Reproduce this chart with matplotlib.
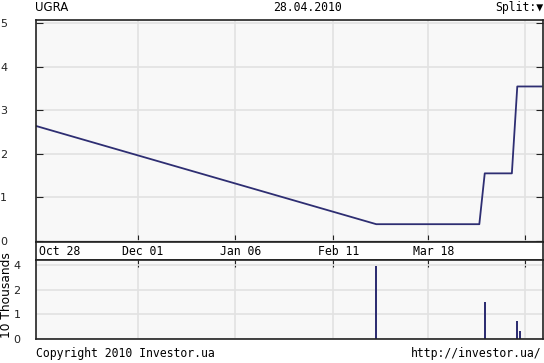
import numpy as np
import matplotlib
import matplotlib.pyplot as plt
matplotlib.use('Agg')

# price series (UAH)
price_dates = ['2009-10-24', '2010-02-27', '2010-04-06', '2010-04-08',
               '2010-04-18', '2010-04-20', '2010-04-29']
price_values = [2.65, 0.38, 0.38, 1.55, 1.55, 3.55, 3.55]

# volume, tens of thousands
volume_dates = ['2010-02-27', '2010-04-08', '2010-04-20', '2010-04-21']
volume_values = [3.9, 1.4, 0.71, 0.33]

tick_dates = ['2009-12-01', '2010-01-06', '2010-02-11', '2010-03-18', '2010-04-23']
tick_labels = ['Dec 01', 'Jan 06', 'Feb 11', 'Mar 18', '']

price_ticks = [0, 1, 2, 3, 4, 5]
volume_ticks = [0, 1, 2, 4]

origin = np.datetime64('2009-10-28')


def days(dates):
    return (np.array(dates, dtype='datetime64[D]') - origin).astype(float)


line_col = '#2e2e72'
grid_col = '#e2e2e2'
face_col = '#f8f8f8'
mono = 'DejaVu Sans Mono'

fig = plt.figure(figsize=(5.44, 3.63), dpi=100)
W, H = 544.0, 363.0
x0, x1 = 35.7 / W, 542.5 / W


def box(top, bottom):
    return [x0, 1 - bottom / H, x1 - x0, (bottom - top) / H]


ax = fig.add_axes(box(20, 242))
band = fig.add_axes(box(242, 260))
axv = fig.add_axes(box(260, 339))

xlim = (-3.6, 183.3)
tx = days(tick_dates)

# main price panel
ax.plot(days(price_dates), price_values, color=line_col, lw=1.3)
ax.set_xlim(*xlim)
ax.set_ylim(-0.03, 5.08)
ax.set_facecolor(face_col)
ax.set_yticks(price_ticks)
ax.set_yticklabels([str(v) for v in price_ticks], fontsize=8)
ax.set_xticks(tx)
ax.set_xticklabels([])
ax.grid(True, color=grid_col, lw=1.2)
ax.set_axisbelow(True)
ax.tick_params(axis='y', direction='in', length=5, pad=20.5, right=True, colors='#222222')
ax.tick_params(axis='x', direction='in', length=5, bottom=True, top=False, colors='#222222')

# date label band
band.set_xlim(*xlim)
band.set_ylim(0, 1)
band.set_xticks([])
band.set_yticks([])
for d, lab in zip(tx, tick_labels):
    band.text(d + 2, 0.45, lab, ha='center', va='center', fontsize=8.3, family=mono)
band.text(0.007, 0.45, 'Oct 28', transform=band.transAxes, ha='left', va='center',
          fontsize=8.3, family=mono)

# volume panel
axv.bar(days(volume_dates), volume_values, width=0.6, color=line_col)
axv.set_yscale('symlog', base=2, linthresh=1, linscale=0.5)
axv.set_xlim(*xlim)
axv.set_ylim(0, 4.6)
axv.set_facecolor(face_col)
axv.set_yticks(volume_ticks)
axv.set_yticklabels([str(v) for v in volume_ticks], fontsize=8)
axv.yaxis.set_minor_locator(matplotlib.ticker.NullLocator())
axv.set_xticks(tx)
axv.set_xticklabels([])
axv.grid(True, color=grid_col, lw=1.2)
axv.set_axisbelow(True)
axv.tick_params(axis='y', direction='in', length=0, pad=11, colors='#222222')
axv.tick_params(axis='x', direction='in', length=5, bottom=False, top=True, colors='#222222')

for a in (ax, band, axv):
    for s in a.spines.values():
        s.set_linewidth(1.2)
        s.set_color('#222222')

fig.text(6.5 / W, 1 - 295 / H, '10 Thousands', rotation=90, ha='center', va='center', fontsize=8.8)
fig.text(35 / W, 1 - 7.5 / H, 'UGRA', ha='left', va='center', fontsize=8.5)
fig.text(308 / W, 1 - 7.5 / H, '28.04.2010', ha='center', va='center', fontsize=8.3, family=mono)
fig.text(543 / W, 1 - 7.5 / H, 'Split:\u25bc', ha='right', va='center', fontsize=8.3, family=mono)
fig.text(36 / W, 1 - 353 / H, 'Copyright 2010 Investor.ua', ha='left', va='center',
         fontsize=8.3, family=mono)
fig.text(541 / W, 1 - 353 / H, 'http://investor.ua/', ha='right', va='center',
         fontsize=8.3, family=mono)

fig.savefig('out.png', dpi=100)
